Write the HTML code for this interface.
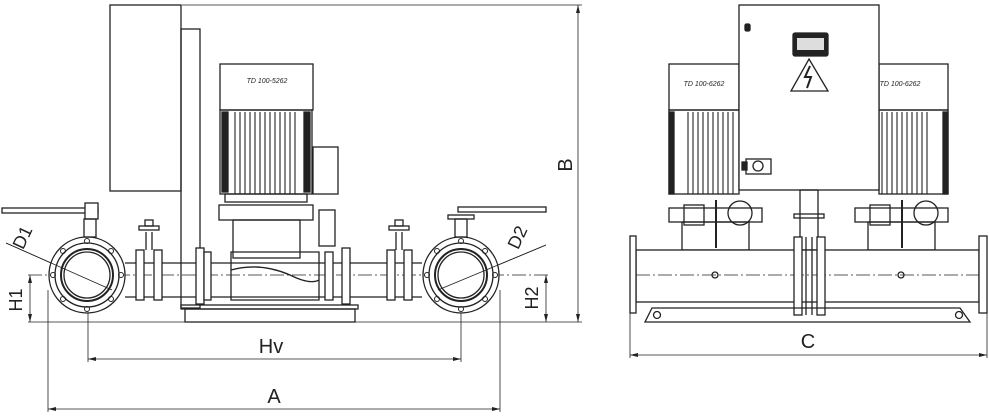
<!DOCTYPE html>
<html><head><meta charset="utf-8"><style>
html,body{margin:0;padding:0;background:#fff;}
svg{display:block;}
text{font-family:"Liberation Sans",sans-serif;fill:#222;}
</style></head><body>
<svg width="989" height="416" viewBox="0 0 989 416" xmlns="http://www.w3.org/2000/svg">
<g fill="none" stroke="#222" stroke-width="1.3">
<!-- LEFT VIEW -->
<!-- dimension lines -->
<line x1="182" y1="5" x2="582" y2="5" stroke-width="0.8"/>
<line x1="28" y1="322" x2="582" y2="322" stroke-width="0.8"/>
<line x1="578" y1="5" x2="578" y2="322" stroke-width="0.8"/>
<line x1="28" y1="275" x2="550" y2="275" stroke-width="0.7" stroke-dasharray="14,3,2,3"/>
<line x1="30" y1="275" x2="30" y2="322" stroke-width="0.8"/>
<line x1="546" y1="275" x2="546" y2="322" stroke-width="0.8"/>
<line x1="48" y1="290" x2="48" y2="412" stroke-width="0.8"/>
<line x1="500" y1="290" x2="500" y2="412" stroke-width="0.8"/>
<line x1="88" y1="300" x2="88" y2="362" stroke-width="0.8"/>
<line x1="461" y1="300" x2="461" y2="362" stroke-width="0.8"/>
<line x1="88" y1="359" x2="461" y2="359" stroke-width="0.8"/>
<line x1="48" y1="409" x2="500" y2="409" stroke-width="0.8"/>
<line x1="6" y1="243" x2="112" y2="290" stroke-width="0.8"/>
<line x1="438" y1="290" x2="546" y2="245" stroke-width="0.8"/>
<!-- cabinet & post -->
<rect x="110" y="5" width="71" height="186" fill="#fff"/>
<rect x="181" y="29" width="19" height="279"/>
<!-- motor -->
<rect x="220" y="64" width="93" height="46" fill="#fff"/>
<rect x="220" y="110" width="92" height="84"/>
<rect x="222" y="112" width="6" height="80" fill="#222"/>
<rect x="304" y="112" width="6" height="80" fill="#222"/>
<g stroke-width="1.1">
<line x1="235" y1="112" x2="235" y2="194"/><line x1="240" y1="112" x2="240" y2="194"/><line x1="245" y1="112" x2="245" y2="194"/><line x1="250" y1="112" x2="250" y2="194"/><line x1="255" y1="112" x2="255" y2="194"/><line x1="260" y1="112" x2="260" y2="194"/><line x1="265" y1="112" x2="265" y2="194"/><line x1="270" y1="112" x2="270" y2="194"/><line x1="275" y1="112" x2="275" y2="194"/><line x1="280" y1="112" x2="280" y2="194"/><line x1="285" y1="112" x2="285" y2="194"/><line x1="290" y1="112" x2="290" y2="194"/><line x1="295" y1="112" x2="295" y2="194"/>
</g>
<rect x="313" y="147" width="25" height="47"/>
<rect x="225" y="194" width="82" height="8"/>
<rect x="219" y="205" width="94" height="15"/>
<rect x="233" y="220" width="67" height="38"/>
<path d="M231 252 H319 V300 H231 Z"/>
<path d="M231 270 Q260 262 290 275 Q310 285 319 280" />
<rect x="319" y="210" width="16" height="36"/>
<!-- pipe -->
<line x1="125" y1="263" x2="422" y2="263"/>
<line x1="125" y1="297" x2="422" y2="297"/>
<!-- pump flanges -->
<rect x="196" y="248" width="8" height="56" fill="#fff"/>
<rect x="204" y="252" width="7" height="48" fill="#fff"/>
<rect x="325" y="252" width="8" height="48" fill="#fff"/>
<rect x="342" y="248" width="8" height="56" fill="#fff"/>
<!-- gate valves -->
<rect x="136" y="250" width="8" height="50" fill="#fff"/>
<rect x="154" y="250" width="8" height="50" fill="#fff"/>
<line x1="146" y1="232" x2="146" y2="250"/><line x1="152" y1="232" x2="152" y2="250"/>
<rect x="139" y="226" width="20" height="4"/>
<rect x="145" y="220" width="8" height="6"/>
<rect x="387" y="250" width="8" height="50" fill="#fff"/>
<rect x="404" y="250" width="8" height="50" fill="#fff"/>
<line x1="396" y1="232" x2="396" y2="250"/><line x1="402" y1="232" x2="402" y2="250"/>
<rect x="389" y="226" width="20" height="4"/>
<rect x="395" y="220" width="8" height="6"/>
<!-- base -->
<rect x="181" y="305" width="177" height="4"/>
<rect x="185" y="309" width="170" height="13"/>
<!-- butterfly valves -->
<circle cx="87" cy="275" r="38" fill="#fff"/>
<circle cx="87" cy="275" r="32"/>
<circle cx="87" cy="275" r="26" stroke-width="2"/>
<circle cx="87" cy="275" r="23"/>
<circle cx="461" cy="275" r="38" fill="#fff"/>
<circle cx="461" cy="275" r="32"/>
<circle cx="461" cy="275" r="26" stroke-width="2"/>
<circle cx="461" cy="275" r="23"/>
<g stroke-width="1">
<circle cx="87" cy="241" r="2.5"/><circle cx="87" cy="309" r="2.5"/><circle cx="53" cy="275" r="2.5"/><circle cx="121" cy="275" r="2.5"/>
<circle cx="63" cy="251" r="2.5"/><circle cx="111" cy="251" r="2.5"/><circle cx="63" cy="299" r="2.5"/><circle cx="111" cy="299" r="2.5"/>
<circle cx="461" cy="241" r="2.5"/><circle cx="461" cy="309" r="2.5"/><circle cx="427" cy="275" r="2.5"/><circle cx="495" cy="275" r="2.5"/>
<circle cx="437" cy="251" r="2.5"/><circle cx="485" cy="251" r="2.5"/><circle cx="437" cy="299" r="2.5"/><circle cx="485" cy="299" r="2.5"/>
</g>
<line x1="6" y1="243" x2="112" y2="290" stroke-width="0.8"/>
<line x1="438" y1="290" x2="546" y2="245" stroke-width="0.8"/>
<!-- levers -->
<rect x="2" y="208" width="96" height="5" fill="#fff"/>
<rect x="85" y="203" width="13" height="16" fill="#fff"/>
<rect x="84" y="219" width="12" height="18"/>
<rect x="458" y="207" width="88" height="5" fill="#fff"/>
<rect x="448" y="215" width="26" height="4"/>
<rect x="455" y="219" width="12" height="18"/>

<!-- RIGHT VIEW -->
<line x1="630" y1="355" x2="987" y2="355" stroke-width="0.8"/>
<line x1="630" y1="313" x2="630" y2="358" stroke-width="0.8"/>
<line x1="987" y1="313" x2="987" y2="358" stroke-width="0.8"/>
<!-- motors -->
<rect x="669" y="64" width="70" height="46"/>
<rect x="669" y="110" width="70" height="84"/>
<rect x="669" y="112" width="5" height="82" fill="#222"/>
<g stroke-width="1.1">
<line x1="688" y1="112" x2="688" y2="194"/><line x1="693" y1="112" x2="693" y2="194"/><line x1="698" y1="112" x2="698" y2="194"/><line x1="703" y1="112" x2="703" y2="194"/><line x1="708" y1="112" x2="708" y2="194"/><line x1="713" y1="112" x2="713" y2="194"/><line x1="718" y1="112" x2="718" y2="194"/><line x1="723" y1="112" x2="723" y2="194"/><line x1="728" y1="112" x2="728" y2="194"/><line x1="733" y1="112" x2="733" y2="194"/>
<line x1="882" y1="112" x2="882" y2="194"/><line x1="887" y1="112" x2="887" y2="194"/><line x1="892" y1="112" x2="892" y2="194"/><line x1="897" y1="112" x2="897" y2="194"/><line x1="902" y1="112" x2="902" y2="194"/><line x1="907" y1="112" x2="907" y2="194"/><line x1="912" y1="112" x2="912" y2="194"/><line x1="917" y1="112" x2="917" y2="194"/><line x1="922" y1="112" x2="922" y2="194"/><line x1="927" y1="112" x2="927" y2="194"/>
</g>
<rect x="879" y="64" width="69" height="46"/>
<rect x="879" y="110" width="69" height="84"/>
<rect x="943" y="112" width="5" height="82" fill="#222"/>
<!-- pump assemblies -->
<rect x="669" y="208" width="93" height="14"/>
<rect x="684" y="205" width="20" height="20"/>
<circle cx="740" cy="213" r="12"/>
<rect x="682" y="222" width="67" height="28"/>
<rect x="855" y="208" width="93" height="14"/>
<rect x="870" y="205" width="20" height="20"/>
<circle cx="926" cy="213" r="12"/>
<rect x="868" y="222" width="67" height="28"/>
<line x1="716" y1="200" x2="716" y2="248" stroke-width="2"/>
<line x1="902" y1="200" x2="902" y2="248" stroke-width="2"/>
<!-- cabinet -->
<rect x="739" y="5" width="140" height="185" fill="#fff"/>
<rect x="793" y="33" width="35" height="23" rx="2" fill="#222"/>
<rect x="797" y="38" width="27" height="12" fill="#ddd" stroke="none"/>
<path d="M809 59 L828 91 L791 91 Z"/>
<path d="M810 66 L805 77 L811 77 L807 88" stroke-width="2"/>
<rect x="745" y="24" width="5" height="7" rx="1.5" fill="#222"/>
<rect x="746" y="159" width="25" height="15"/>
<circle cx="758" cy="166" r="5"/>
<rect x="742" y="162" width="5" height="8" fill="#222"/>
<!-- center support -->
<rect x="800" y="190" width="18" height="60"/>
<rect x="794" y="214" width="30" height="4"/>
<!-- pipe -->
<rect x="636" y="250" width="343" height="52" fill="#fff"/>
<line x1="636" y1="275" x2="979" y2="275" stroke-width="0.7" stroke-dasharray="14,3,2,3"/>
<rect x="630" y="236" width="6" height="77" fill="#fff"/>
<rect x="979" y="236" width="8" height="77" fill="#fff"/>
<circle cx="715" cy="275" r="3"/>
<circle cx="901" cy="275" r="3"/>
<rect x="794" y="237" width="8" height="78" fill="#fff"/>
<rect x="817" y="237" width="8" height="78" fill="#fff"/>
<line x1="806" y1="237" x2="806" y2="315"/><line x1="812" y1="237" x2="812" y2="315"/>
<!-- base -->
<path d="M652 308 H960 L970 322 H645 Z"/>
<circle cx="657" cy="315" r="3.5"/>
<circle cx="959" cy="315" r="3.5"/>
</g>
<!-- arrowheads -->
<g fill="#222">
<path d="M578 5 l-2 8 h4z"/><path d="M578 322 l-2 -8 h4z"/>
<path d="M30 275 l-2 8 h4z"/><path d="M30 322 l-2 -8 h4z"/>
<path d="M546 275 l-2 8 h4z"/><path d="M546 322 l-2 -8 h4z"/>
<path d="M88 359 l8 -2 v4z"/><path d="M461 359 l-8 -2 v4z"/>
<path d="M48 409 l8 -2 v4z"/><path d="M500 409 l-8 -2 v4z"/>
<path d="M630 355 l8 -2 v4z"/><path d="M987 355 l-8 -2 v4z"/>
</g>
<!-- labels -->
<text x="271" y="353" font-size="20" text-anchor="middle">Hv</text>
<text x="274" y="403" font-size="20" text-anchor="middle">A</text>
<text x="808" y="348" font-size="20" text-anchor="middle">C</text>
<text transform="translate(572,165) rotate(-90)" font-size="20" text-anchor="middle">B</text>
<text transform="translate(22,300) rotate(-90)" font-size="18" text-anchor="middle">H1</text>
<text transform="translate(538,298) rotate(-90)" font-size="18" text-anchor="middle">H2</text>
<text transform="translate(28,240) rotate(-65)" font-size="18" text-anchor="middle">D1</text>
<text transform="translate(523,240) rotate(-65)" font-size="18" text-anchor="middle">D2</text>
<text x="267" y="83" font-size="7" font-style="italic" text-anchor="middle">TD 100-5262</text>
<text x="704" y="86" font-size="7" font-style="italic" text-anchor="middle">TD 100-6262</text>
<text x="900" y="86" font-size="7" font-style="italic" text-anchor="middle">TD 100-6262</text>
</svg>
</body></html>
